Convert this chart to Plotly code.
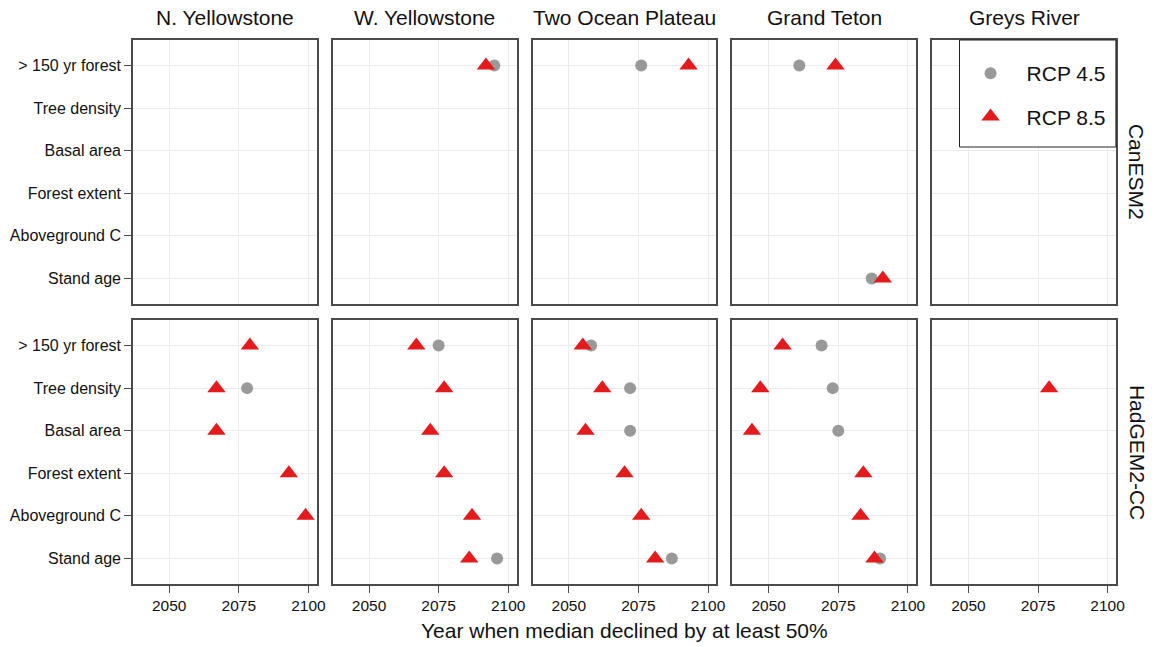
import plotly.graph_objects as go

regions = ["N. Yellowstone", "W. Yellowstone", "Two Ocean Plateau", "Grand Teton", "Greys River"]
models = ["CanESM2", "HadGEM2-CC"]
variables = ["> 150 yr forest", "Tree density", "Basal area", "Forest extent", "Aboveground C", "Stand age"]
x_ticks = [2050, 2075, 2100]

# values per region (rows), per variable (columns); None = no 50% decline
canesm2_rcp45 = [
    [None, None, None, None, None, None],
    [2095, None, None, None, None, None],
    [2076, None, None, None, None, None],
    [2061, None, None, None, None, 2087],
    [None, None, None, None, None, None],
]
canesm2_rcp85 = [
    [None, None, None, None, None, None],
    [2092, None, None, None, None, None],
    [2093, None, None, None, None, None],
    [2074, None, None, None, None, 2091],
    [None, None, None, None, None, None],
]
hadgem_rcp45 = [
    [None, 2078, None, None, None, None],
    [2075, None, None, None, None, 2096],
    [2058, 2072, 2072, None, None, 2087],
    [2069, 2073, 2075, None, None, 2090],
    [None, None, None, None, None, None],
]
hadgem_rcp85 = [
    [2079, 2067, 2067, 2093, 2099, None],
    [2067, 2077, 2072, 2077, 2087, 2086],
    [2055, 2062, 2056, 2070, 2076, 2081],
    [2055, 2047, 2044, 2084, 2083, 2088],
    [None, 2079, None, None, None, None],
]

data = {
    ("CanESM2", "RCP 4.5"): canesm2_rcp45,
    ("CanESM2", "RCP 8.5"): canesm2_rcp85,
    ("HadGEM2-CC", "RCP 4.5"): hadgem_rcp45,
    ("HadGEM2-CC", "RCP 8.5"): hadgem_rcp85,
}

W, H = 1162, 647
FONT = "Liberation Sans, Arial, sans-serif"
TXT = "#111111"
BORDER = "#4a4a4a"
col_px = [(134, 319.2), (335.4, 520.6), (536.8, 722.0), (738.2, 923.4), (939.6, 1124.6)]
row_px = [(40, 304), (320, 584)]

style = {
    "RCP 4.5": dict(symbol="circle", size=12, color="#999999"),
    "RCP 8.5": dict(symbol="triangle-up", size=16, color="#E41A1C"),
}

fig = go.Figure()
layout = {}
k = 0
for r, model in enumerate(models):
    for c, region in enumerate(regions):
        k += 1
        xa = "xaxis" if k == 1 else f"xaxis{k}"
        ya = "yaxis" if k == 1 else f"yaxis{k}"
        xref = "x" if k == 1 else f"x{k}"
        yref = "y" if k == 1 else f"y{k}"
        for rcp in ["RCP 4.5", "RCP 8.5"]:
            vals = data[(model, rcp)][c]
            xs = [v for v in vals if v is not None]
            ys = [variables[i] for i, v in enumerate(vals) if v is not None]
            st = style[rcp]
            fig.add_trace(go.Scatter(
                x=xs, y=ys, mode="markers", name=rcp,
                legendgroup=rcp, showlegend=(r == 1 and c == 0),
                marker=dict(symbol=st["symbol"], size=st["size"], color=st["color"],
                            line=dict(width=0)),
                xaxis=xref, yaxis=yref, hoverinfo="x+y+name",
            ))
        x0, x1 = col_px[c]
        y0, y1 = row_px[r]
        layout[xa] = dict(
            domain=[x0 / W, x1 / W], range=[2037, 2103], anchor=yref,
            tickvals=x_ticks, showticklabels=(r == 1),
            ticks="outside" if r == 1 else "", ticklen=7, tickcolor=BORDER,
            showgrid=True, gridcolor="#EBEBEB", gridwidth=1, zeroline=False,
            showline=True, mirror=True, linecolor=BORDER, linewidth=1.5,
            tickfont=dict(family=FONT, size=15.5, color=TXT),
        )
        layout[ya] = dict(
            domain=[1 - y1 / H, 1 - y0 / H], anchor=xref,
            type="category", categoryorder="array", categoryarray=variables,
            range=[5.6, -0.6], showticklabels=(c == 0),
            ticks="outside" if c == 0 else "", ticklen=7, tickcolor=BORDER,
            showgrid=True, gridcolor="#EBEBEB", gridwidth=1, zeroline=False,
            showline=True, mirror=True, linecolor=BORDER, linewidth=1.5,
            tickfont=dict(family=FONT, size=16, color=TXT),
        )

annotations = []
for c, region in enumerate(regions):
    x0, x1 = col_px[c]
    annotations.append(dict(text=region, xref="paper", yref="paper",
                            x=(x0 + x1) / 2 / W, y=1 - 18 / H, xanchor="center", yanchor="middle",
                            showarrow=False, font=dict(family=FONT, size=21, color=TXT)))
for r, model in enumerate(models):
    y0, y1 = row_px[r]
    annotations.append(dict(text=model, xref="paper", yref="paper",
                            x=1146 / W, y=1 - (y0 + y1) / 2 / H, xanchor="center", yanchor="middle",
                            textangle=90, showarrow=False,
                            font=dict(family=FONT, size=21, color=TXT)))
annotations.append(dict(text="Year when median declined by at least 50%", xref="paper", yref="paper",
                        x=629.5 / W, y=1 - 630 / H, xanchor="center", yanchor="middle",
                        showarrow=False, font=dict(family=FONT, size=21, color=TXT)))

shapes = [dict(type="rect", xref="paper", yref="paper", x0=967 / W, x1=1124.6 / W,
               y0=1 - 147 / H, y1=1 - 40 / H, line=dict(color="#222222", width=1),
               fillcolor="white", layer="above")]

fig.update_layout(
    width=W, height=H, autosize=False, margin=dict(l=0, r=0, t=0, b=0),
    paper_bgcolor="white", plot_bgcolor="white",
    font=dict(family=FONT, size=15, color=TXT),
    annotations=annotations, shapes=shapes,
    showlegend=True,
    legend=dict(x=962 / W, y=1 - 53 / H, xanchor="left", yanchor="top",
                bgcolor="rgba(0,0,0,0)", borderwidth=0,
                font=dict(family=FONT, size=21, color=TXT),
                tracegroupgap=13, itemsizing="trace", itemwidth=62),
    **layout,
)

fig.write_html("out.html", config={"responsive": False})
